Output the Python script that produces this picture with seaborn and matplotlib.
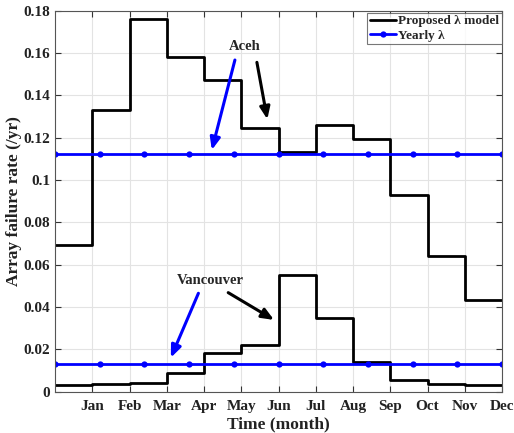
import matplotlib
matplotlib.use("Agg")
import matplotlib.pyplot as plt
import seaborn as sns
import pandas as pd

# Monthly failure rates (/yr), one value per month interval
months = ["Jan", "Feb", "Mar", "Apr", "May", "Jun", "Jul", "Aug", "Sep", "Oct", "Nov", "Dec"]
month_edges = [0, 1, 2, 3, 4, 5, 6, 7, 8, 9, 10, 11, 12]
aceh_monthly = [0.0692, 0.1331, 0.1761, 0.1581, 0.1471, 0.1246,
                0.1131, 0.1259, 0.1195, 0.0931, 0.0641, 0.0432]
vancouver_monthly = [0.0032, 0.0036, 0.0043, 0.0087, 0.0185, 0.0221,
                     0.0549, 0.0350, 0.0140, 0.0054, 0.0036, 0.0032]

# Constant yearly rates, sampled at the marker positions
yearly_x = [0, 1.2, 2.4, 3.6, 4.8, 6.0, 7.2, 8.4, 9.6, 10.8, 12.0]
aceh_yearly = 0.1121
vancouver_yearly = 0.0131

yticks = [0, 0.02, 0.04, 0.06, 0.08, 0.1, 0.12, 0.14, 0.16, 0.18]
ytick_labels = ["0", "0.02", "0.04", "0.06", "0.08", "0.1", "0.12", "0.14", "0.16", "0.18"]

sns.set_theme(style="white")
plt.rcParams["font.family"] = ["Liberation Serif", "DejaVu Serif"]
plt.rcParams["font.weight"] = "bold"

fig = plt.figure(figsize=(5.14, 4.33), dpi=100)
ax = fig.add_axes([55 / 514, 1 - 391.7 / 433, (502 - 55) / 514, (391.7 - 10.7) / 433])

def steps_frame(vals):
    return pd.DataFrame({"x": month_edges, "y": list(vals) + [vals[-1]]})

for i, vals in enumerate([aceh_monthly, vancouver_monthly]):
    sns.lineplot(data=steps_frame(vals), x="x", y="y", ax=ax, color="black",
                 linewidth=2.0, drawstyle="steps-post", sort=False,
                 label="Proposed λ model" if i == 0 else None)

for i, val in enumerate([aceh_yearly, vancouver_yearly]):
    df = pd.DataFrame({"x": yearly_x, "y": [val] * len(yearly_x)})
    sns.lineplot(data=df, x="x", y="y", ax=ax, color="#0000FF", linewidth=2.0,
                 marker="o", markersize=4.5, markeredgewidth=0, sort=False,
                 label="Yearly λ" if i == 0 else None)

ax.set_xlim(0, 12)
ax.set_ylim(0, 0.18)
ax.set_xticks(month_edges[1:])
ax.set_xticklabels(months)
ax.set_yticks(yticks)
ax.set_yticklabels(ytick_labels)
ax.grid(True, color="#e3e3e3", linewidth=0.8)
ax.tick_params(direction="in", length=4, width=0.8, colors="#333333",
               labelsize=11, labelcolor="#222222", top=True, right=True,
               bottom=True, left=True, labelleft=True, labelbottom=True)
ax.tick_params(axis="x", pad=6)
for lab in ax.get_xticklabels() + ax.get_yticklabels():
    lab.set_fontweight("bold")
for s in ax.spines.values():
    s.set_color("#555555")
    s.set_linewidth(0.8)

ax.set_xlabel("Time (month)", fontsize=12.5, fontweight="bold", labelpad=2.5, color="#222222")
ax.set_ylabel("Array failure rate (/yr)", fontsize=12.5, fontweight="bold", labelpad=1, color="#222222")

leg = ax.legend(loc="upper right", fontsize=9.5, frameon=True, fancybox=False,
                borderpad=0.2, handlelength=2.0, handletextpad=0.15,
                labelspacing=0.15, borderaxespad=0.0, bbox_to_anchor=(1.0, 0.995))
leg.get_frame().set_edgecolor("#555555")
leg.get_frame().set_linewidth(0.8)
for t in leg.get_texts():
    t.set_fontweight("bold")

# Annotations
ax.text(5.10, 0.1630, "Aceh", fontsize=10.5, fontweight="bold", ha="center", va="center")
ax.text(4.16, 0.0523, "Vancouver", fontsize=10.5, fontweight="bold", ha="center", va="center")

arrows = [
    ((4.83, 0.1567), (4.21, 0.1142), "#0000FF"),
    ((5.42, 0.1556), (5.70, 0.1287), "black"),
    ((3.85, 0.0465), (3.11, 0.0161), "#0000FF"),
    ((4.65, 0.0468), (5.88, 0.0339), "black"),
]
for tail, head, col in arrows:
    ax.annotate("", xy=head, xytext=tail,
                arrowprops=dict(arrowstyle="-|>,head_length=0.6,head_width=0.25",
                                color=col, lw=2.2, shrinkA=0, shrinkB=0))

fig.savefig("out.png", dpi=100)
